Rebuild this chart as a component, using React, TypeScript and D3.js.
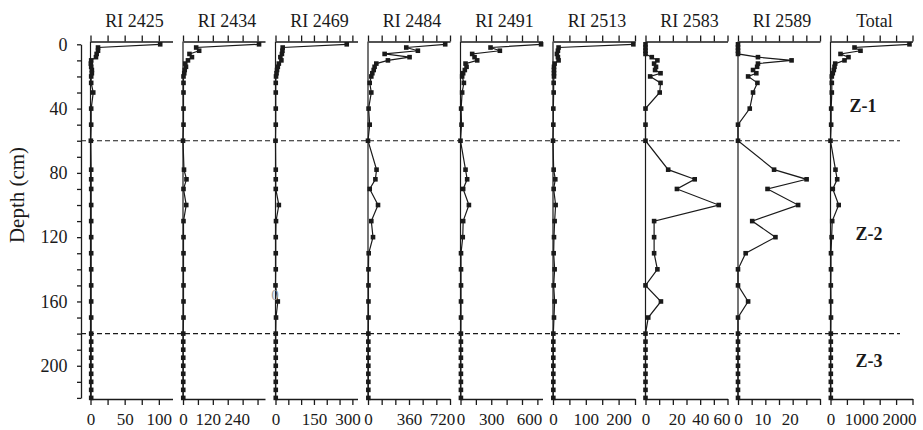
import React, { useEffect, useRef } from "react";
import * as d3 from "d3";

// sample depths (cm)
const depths = [0, 2, 4, 6, 8, 10, 12, 14, 16, 18, 20, 24, 30, 40, 50, 60, 78, 84, 90, 100, 110, 120, 130, 140, 150, 160, 170, 180, 185, 190, 195, 200, 205, 210, 215, 220];

const ri2425 = [102, 11, 11, 9, 8, 1, 0.5, 1, 2, 2, 1, 1, 4, 1, 1, 0.5, 1, 1, 1, 1, 1, 1, 1, 1, 1, 1, 1, 1, 1, 1, 1, 1, 1, 1, 1, 1];
const ri2434 = [306, 53, 65, 26, 36, 20, 9, 12, 7, 5, 2, 2, 2, 2, 2, 0, 4, 14, 2, 13, 2, 2, 2, 2, 2, 2, 2, 1, 1, 1, 1, 1, 1, 1, 1, 1];
const ri2469 = [278, 28, 27, 25, 19, 23, 13, 9, 6, 4, 2, 1, 1, 1, 1, 0, 1, 1, 1, 13, 2, 1, 1, 1, 0, 9, 2, 1, 1, 1, 1, 1, 1, 1, 1, 1];
const ri2484 = [678, 336, 438, 146, 365, 175, 73, 58, 50, 38, 29, 15, 29, 5, 15, 0, 75, 65, 15, 88, 29, 44, 6, 4, 4, 4, 4, 3, 3, 3, 3, 3, 3, 3, 3, 3];
const ri2491 = [786, 293, 384, 114, 137, 163, 49, 59, 42, 26, 16, 33, 16, 6, 10, 0, 49, 65, 26, 82, 26, 22, 5, 5, 5, 5, 5, 4, 4, 4, 4, 4, 4, 4, 4, 4];
const ri2513 = [245, 17, 15, 12, 15, 17, 5, 3, 3, 3, 3, 2, 2, 1, 1, 0, 2, 7, 2, 8, 5, 3, 2, 5, 2, 5, 3, 1, 1, 1, 1, 1, 1, 1, 1, 1];
const ri2583 = [0, 0, 0, 0, 4.6, 8.7, 6.3, 7.7, 7, 11, 3.4, 11, 10.4, 0, 0, 0, 16.6, 36, 23, 53.6, 6.3, 6.3, 6.3, 8.7, 0, 11.3, 2, 0, 0, 0, 0, 0, 0, 0, 0, 0];
const ri2589 = [0, 0, 0, 0, 7.3, 19.6, 7.3, 7, 5.5, 6.7, 3.7, 7.1, 5.5, 4.3, 0, 0, 13.2, 25.1, 10.8, 22, 5.2, 13.7, 2.8, 0, 0, 3.7, 0, 0, 0, 0, 0, 0, 0, 0, 0, 0];
const total = [2408, 732, 915, 305, 549, 427, 143, 122, 101, 70, 40, 40, 40, 20, 20, 0, 152, 204, 70, 250, 52, 35, 15, 15, 10, 15, 15, 10, 10, 10, 10, 10, 10, 10, 10, 10];

const panelNames = ["RI 2425", "RI 2434", "RI 2469", "RI 2484", "RI 2491", "RI 2513", "RI 2583", "RI 2589", "Total"];
const panelSeries = [ri2425, ri2434, ri2469, ri2484, ri2491, ri2513, ri2583, ri2589, total];
const panelMax = [120, 330, 320, 720, 800, 250, 60, 30, 2500];
const panelTickStep = [25, 60, 50, 120, 150, 50, 10, 5, 500];
const panelLabels = [
  [0, 50, 100],
  [0, 120, 240],
  [0, 150, 300],
  [0, 360, 720],
  [0, 300, 600],
  [0, 100, 200],
  [0, 20, 40, 60],
  [0, 10, 20],
  [0, 1000, 2000],
];
const depthTicks = d3.range(0, 221, 10);
const depthLabels = [0, 40, 80, 120, 160, 200];
const zoneBounds = [60, 180];
const zoneNames = ["Z-1", "Z-2", "Z-3"];
const zoneLabelDepths = [42, 122, 200.5];

// small horizontal nudges of crowded bottom labels (px)
const labelShift: Record<string, number> = {
  "1-120": -5,
  "1-240": -6,
  "2-300": -5,
  "3-720": -8,
  "4-600": 7,
  "6-20": 4,
  "6-60": -6,
  "7-10": -3,
  "7-20": -3,
  "8-1000": -2,
  "8-2000": 3,
};

const FONT = "'Liberation Serif', 'Times New Roman', serif";
const INK = "#1a1a1a";

const DepthProfiles = () => {
  const ref = useRef<SVGSVGElement>(null);

  useEffect(() => {
    document.body.style.margin = "0";
    const svg = d3.select(ref.current);
    svg.selectAll("*").remove();

    const top = 41.5;
    const bottom = 399;
    const y = d3.scaleLinear().domain([0, 220]).range([44.3, 397.9]);
    const panels = d3
      .scaleBand()
      .domain(panelNames)
      .range([90.5, 912.5])
      .paddingInner(0.1135);

    // depth axis
    const yAxis = d3
      .axisLeft(y)
      .tickValues(depthTicks)
      .tickSize(4)
      .tickSizeOuter(0)
      .tickPadding(9.5)
      .tickFormat((d) => (depthLabels.includes(+d) ? String(d) : ""));
    const gy = svg.append("g").attr("transform", "translate(81,0)").call(yAxis);
    gy.attr("font-size", 18).attr("font-family", FONT).attr("color", INK);
    gy.selectAll("path,line").attr("stroke-width", 1.3);
    gy.selectAll("text").attr("fill", INK);

    svg
      .append("text")
      .attr("transform", "translate(17,195) rotate(-90)")
      .attr("text-anchor", "middle")
      .attr("dominant-baseline", "central")
      .attr("font-family", FONT)
      .attr("font-size", 21)
      .attr("fill", INK)
      .text("Depth (cm)");

    // zone boundaries
    svg
      .selectAll(".zone")
      .data(zoneBounds)
      .join("line")
      .attr("x1", 81)
      .attr("x2", 900)
      .attr("y1", (d) => y(d))
      .attr("y2", (d) => y(d))
      .attr("stroke", INK)
      .attr("stroke-width", 1.2)
      .attr("stroke-dasharray", "5,3");

    panelNames.forEach((name, i) => {
      const x0 = panels(name)!;
      const x = d3.scaleLinear().domain([0, panelMax[i]]).range([x0, x0 + panels.bandwidth()]);
      const ticks = d3.range(0, panelMax[i] + 0.001, panelTickStep[i]);
      const g = svg.append("g");

      const bAxis = d3
        .axisBottom(x)
        .tickValues(ticks)
        .tickSize(6)
        .tickSizeOuter(0)
        .tickPadding(8)
        .tickFormat((d) => (panelLabels[i].includes(+d) ? String(d) : ""));
      const gb = g.append("g").attr("transform", `translate(0,${bottom})`).call(bAxis);
      gb.selectAll<SVGTextElement, number>(".tick text").attr("dx", (d) => labelShift[`${i}-${d}`] || 0);
      const tAxis = d3.axisTop(x).tickValues(ticks).tickSize(6).tickSizeOuter(0).tickFormat(() => "");
      const gt = g.append("g").attr("transform", `translate(0,${top})`).call(tAxis);
      [gb, gt].forEach((a) => {
        a.attr("font-size", 17).attr("font-family", FONT).attr("color", INK);
        a.selectAll("path,line").attr("stroke-width", 1.3);
        a.selectAll("text").attr("fill", INK);
      });

      g.append("line")
        .attr("x1", x0)
        .attr("x2", x0)
        .attr("y1", top)
        .attr("y2", bottom)
        .attr("stroke", INK)
        .attr("stroke-width", 1.2);

      g.append("text")
        .attr("x", x0 + panels.bandwidth() / 2 + 3)
        .attr("y", 27)
        .attr("text-anchor", "middle")
        .attr("font-family", FONT)
        .attr("font-size", 18)
        .attr("fill", INK)
        .text(name);

      const vals = panelSeries[i];
      const line = d3
        .line<number>()
        .x((v) => x(v))
        .y((_, j) => y(depths[j]));
      g.append("path")
        .datum(vals)
        .attr("d", line)
        .attr("fill", "none")
        .attr("stroke", INK)
        .attr("stroke-width", 1.2);

      g.selectAll(".pt")
        .data(vals)
        .join("rect")
        .attr("x", (v) => x(v) - 2.3)
        .attr("y", (_, j) => y(depths[j]) - 2.3)
        .attr("width", 4.6)
        .attr("height", 4.6)
        .attr("fill", INK);
    });

    // stray mark in the RI 2469 panel
    svg
      .append("text")
      .attr("x", 275)
      .attr("y", 300)
      .attr("text-anchor", "middle")
      .attr("font-family", FONT)
      .attr("font-size", 15)
      .attr("fill", "#9a9a9a")
      .text("0");

    // zone labels
    svg
      .selectAll(".zl")
      .data(zoneNames)
      .join("text")
      .attr("x", (_, i) => (i === 0 ? 863 : 869))
      .attr("y", (_, i) => y(zoneLabelDepths[i]))
      .attr("text-anchor", "middle")
      .attr("font-family", FONT)
      .attr("font-size", 18)
      .attr("font-weight", "bold")
      .attr("fill", INK)
      .text((d) => d);
  }, []);

  return <svg ref={ref} width={923} height={430} style={{ display: "block" }}></svg>;
};

export default function App() {
  return <DepthProfiles />;
}
